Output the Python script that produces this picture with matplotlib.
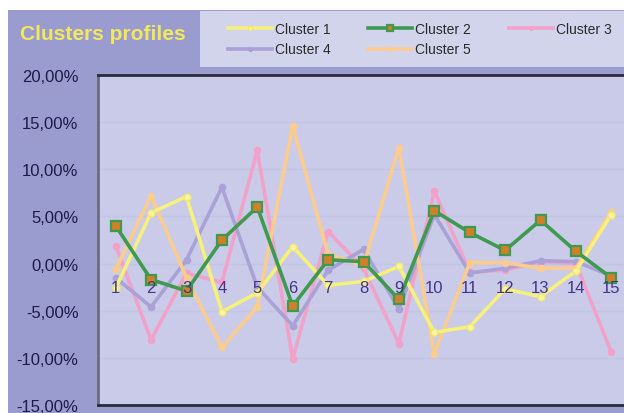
import matplotlib
matplotlib.use("Agg")
import matplotlib.pyplot as plt
from matplotlib.patches import Rectangle
from matplotlib.ticker import FuncFormatter

# Data (percent)
positions = list(range(1, 16))
cluster1 = [-2.6, 5.4, 7.1, -5.1, -3.1, 1.8, -2.3, -1.9, -0.3, -7.3, -6.7, -2.7, -3.5, -0.8, 5.2]
cluster2 = [4.0, -1.7, -2.9, 2.5, 6.0, -4.5, 0.4, 0.2, -3.8, 5.6, 3.3, 1.4, 4.6, 1.3, -1.5]
cluster3 = [1.9, -8.1, -1.0, -2.0, 12.0, -10.1, 3.4, -0.5, -8.5, 7.7, -0.9, -0.7, 0.2, 0.0, -9.4]
cluster4 = [-1.5, -4.6, 0.4, 8.1, -2.5, -6.6, -0.7, 1.5, -4.8, 5.2, -1.0, -0.5, 0.3, 0.2, -1.3]
cluster5 = [-0.6, 7.2, -1.5, -8.9, -4.6, 14.6, 1.0, -0.2, 12.3, -9.6, 0.1, 0.1, -0.5, -0.5, 5.5]
names = ["Cluster 1", "Cluster 2", "Cluster 3", "Cluster 4", "Cluster 5"]

fig = plt.figure(figsize=(6.24, 4.14), dpi=100, facecolor="white")
fig.patches.append(Rectangle((8 / 624, 0), 1, 403 / 414, transform=fig.transFigure,
                             facecolor="#9a9cd0", edgecolor="none", zorder=-2))
# legend band
fig.patches.append(Rectangle((200 / 624, 346 / 414), 424 / 624, 56 / 414, transform=fig.transFigure,
                             facecolor="#d2d4ec", edgecolor="none", zorder=-1))

fig.text(20 / 624, 1 - 35 / 414, "Clusters profiles", color="#f2e85c", fontsize=15,
         fontweight="bold", family="Liberation Sans", va="center", ha="left")

ax = fig.add_axes([98 / 624, 8 / 414, 531 / 624, 330 / 414], zorder=2)
ax.set_facecolor("#c9cbe8")
ax.grid(axis="y", color="#c2c5e4", lw=1)
ax.set_axisbelow(True)

h1, = ax.plot(positions, cluster1, color="#f6f07c", lw=2.6, marker="o", ms=5,
              mfc="#f8f4a0", mec="#f0e870", label=names[0], zorder=3)
h2, = ax.plot(positions, cluster2, color="#3f9a50", lw=2.6, marker="s", ms=6.5,
              mfc="#d08028", mec="#3f9a50", mew=1.6, label=names[1], zorder=4)
h3, = ax.plot(positions, cluster3, color="#f2a2c8", lw=2.6, marker="o", ms=4.5,
              mfc="#f2a2c8", mec="#f2a2c8", label=names[2], zorder=2)
h4, = ax.plot(positions, cluster4, color="#aaa2d6", lw=2.6, marker="o", ms=4.5,
              mfc="#aaa2d6", mec="#aaa2d6", label=names[3], zorder=2)
h5, = ax.plot(positions, cluster5, color="#fccc8e", lw=2.6, marker="o", ms=4.5,
              mfc="#fccc8e", mec="#fccc8e", label=names[4], zorder=2)

# category labels sit just under the zero line
for p in positions:
    ax.text(p, -2.5, str(p), color="#43358c", fontsize=12, ha="center", va="center",
            family="Liberation Sans", zorder=5)

ax.set_xlim(0.5, 15.5)
ax.set_ylim(-15, 20)
ax.set_yticks(range(-15, 21, 5))
ax.yaxis.set_major_formatter(FuncFormatter(lambda v, _: f"{v:.2f}%".replace(".", ",")))
ax.tick_params(axis="y", length=0, pad=14, labelsize=12, labelcolor="#1c1c44")
ax.set_xticks([])
for lab in ax.get_yticklabels():
    lab.set_family("Liberation Sans")
for side in ["top", "left", "bottom"]:
    ax.spines[side].set_color("#2a2a3a")
    ax.spines[side].set_linewidth(2)
ax.spines["left"].set_color("#6a6a80")
ax.spines["right"].set_visible(False)

# legend filled column-wise, so order handles to read row-wise
handles = [h1, h4, h2, h5, h3]
fig.legend(handles, [h.get_label() for h in handles], loc="center",
           bbox_to_anchor=(215 / 624, 348 / 414, 409 / 624, 52 / 414),
           mode="expand", ncol=3, frameon=False, handlelength=3.2,
           labelcolor="#2a2a2a", prop={"family": "Liberation Sans", "size": 10},
           handletextpad=0.2, labelspacing=0.5, markerscale=0.6)

fig.savefig("out.png", dpi=100, facecolor=fig.get_facecolor())
